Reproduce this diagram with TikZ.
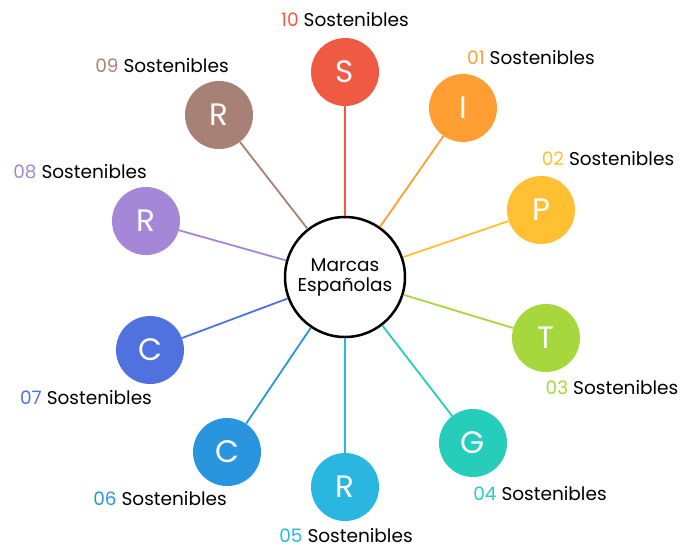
\documentclass[tikz,border=0pt]{standalone}
\usepackage{fontspec}
\setmainfont{Poppins}
\usetikzlibrary{positioning}
\definecolor{cS}{HTML}{F15A42}
\definecolor{cI}{HTML}{FF9F33}
\definecolor{cP}{HTML}{FFC133}
\definecolor{cT}{HTML}{A6D83D}
\definecolor{cG}{HTML}{26CDBB}
\definecolor{cRa}{HTML}{29B6E0}
\definecolor{cCa}{HTML}{2A95DF}
\definecolor{cCb}{HTML}{4F72DF}
\definecolor{cRb}{HTML}{A686D6}
\definecolor{cRc}{HTML}{A88176}
\tikzset{
  brand/.style={circle,fill=#1,text=white,minimum size=68pt,inner sep=0pt,font=\fontsize{31}{31}\selectfont},
  hub/.style={circle,draw=black,line width=2.5pt,fill=white,minimum size=120pt,inner sep=0pt,align=center,font=\fontsize{18.5}{20}\selectfont},
  spoke/.style={line width=1.8pt,draw=#1},
  tag/.style={font=\fontsize{18.5}{18.5}\selectfont,inner sep=0pt},
}
\newcommand{\sost}[2]{\textcolor{#1}{#2} Sostenibles}
\begin{document}
\begin{tikzpicture}[x=1pt,y=-1pt]
  \useasboundingbox (0,0) rectangle (682,550);
  \node[hub] (hub) at (345,277) {Marcas\\Españolas};
  \node[brand=cS] (s) at (345,72) {S};
  \node[brand=cI] (i) at (463,108) {I};
  \node[brand=cP] (p) at (541,210) {P};
  \node[brand=cT] (t) at (546,338) {T};
  \node[brand=cG] (g) at (473,443) {G};
  \node[brand=cRa] (ra) at (345,487) {R};
  \node[brand=cCa] (ca) at (227,452) {C};
  \node[brand=cCb] (cb) at (150,350) {C};
  \node[brand=cRb] (rb) at (146,221) {R};
  \node[brand=cRc] (rc) at (219,115) {R};
  % spokes from hub border to each brand
  \draw[spoke=cS] (hub) -- (s);
  \draw[spoke=cI] (hub) -- (i);
  \draw[spoke=cP] (hub) -- (p);
  \draw[spoke=cT] (hub) -- (t);
  \draw[spoke=cG] (hub) -- (g);
  \draw[spoke=cRa] (hub) -- (ra);
  \draw[spoke=cCa] (hub) -- (ca);
  \draw[spoke=cCb] (hub) -- (cb);
  \draw[spoke=cRb] (hub) -- (rb);
  \draw[spoke=cRc] (hub) -- (rc);
  % labels
  \node[tag] (l10) at (345,20) {\sost{cS}{10}};
  \node[tag] (l01) at (531,58) {\sost{cI}{01}};
  \node[tag] (l02) at (608,159) {\sost{cP}{02}};
  \node[tag] (l03) at (612,388) {\sost{cT}{03}};
  \node[tag] (l04) at (540,494) {\sost{cG}{04}};
  \node[tag] (l05) at (346,536) {\sost{cRa}{05}};
  \node[tag] (l06) at (160,499) {\sost{cCa}{06}};
  \node[tag] (l07) at (86,398) {\sost{cCb}{07}};
  \node[tag] (l08) at (80,172) {\sost{cRb}{08}};
  \node[tag] (l09) at (162,66) {\sost{cRc}{09}};
\end{tikzpicture}
\end{document}
